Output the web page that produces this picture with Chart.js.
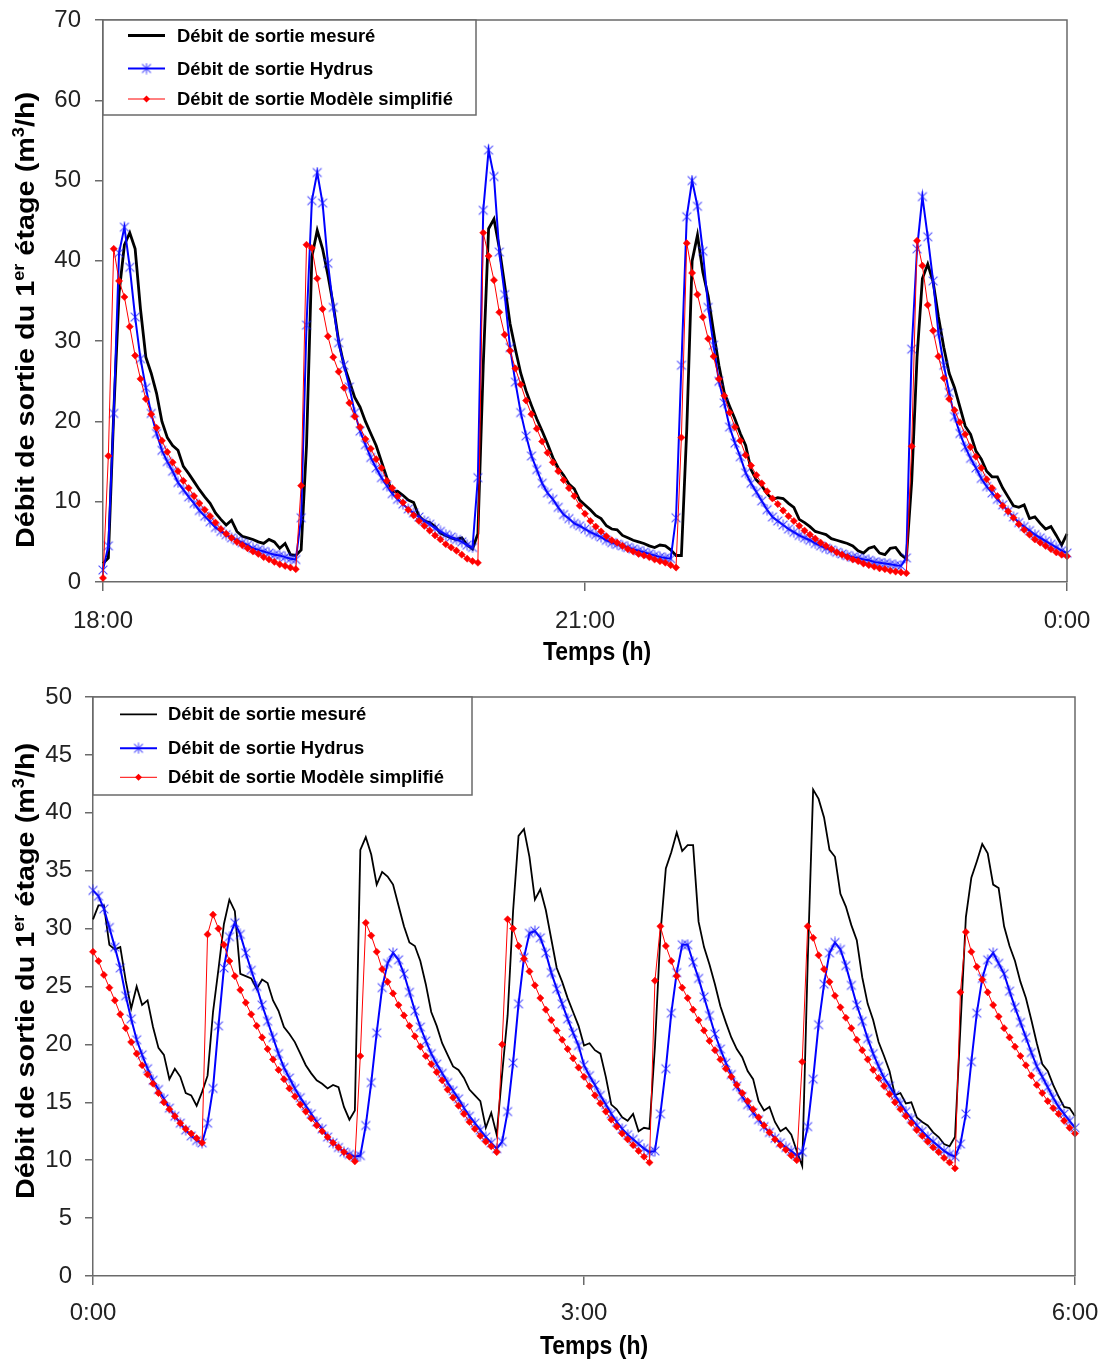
<!DOCTYPE html>
<html>
<head>
<meta charset="utf-8">
<title>Débit de sortie du 1er étage</title>
<script src="https://cdn.jsdelivr.net/npm/chart.js@4"></script>
<style>
  html, body { margin: 0; padding: 0; background: #fff; }
  #page { position: relative; width: 1101px; height: 1369px; overflow: hidden; }
  canvas { position: absolute; left: 0; }
  #topChart { top: 0; }
  #bottomChart { top: 685px; }
</style>
</head>
<body>
<div id="page">
  <canvas id="topChart" width="1101" height="685"></canvas>
  <canvas id="bottomChart" width="1101" height="684"></canvas>
</div>
<script>
// one value every 2 minutes, 181 values per series (6 hours)
const stepMinutes = 2;
const tickMinutes = [0, 180, 360];

const seriesNames = ["Débit de sortie mesuré", "Débit de sortie Hydrus", "Débit de sortie Modèle simplifié"];
const xTitle = "Temps (h)";
// [text, superscript?]
const yTitleParts = [["Débit de sortie du 1", false], ["er", true], [" étage (m", false], ["3", true], ["/h)", false]];

// ---- 18:00 -> 0:00 ----
const topTickLabels = ["18:00", "21:00", "0:00"];
const topMesure = [
  2.3, 3.0, 21, 36, 42, 43.5, 41.5, 34, 28, 26,
  23.5, 20, 18, 17, 16.4, 14.4, 13.5, 12.5, 11.5, 10.6,
  9.8, 8.6, 7.8, 7.1, 7.7, 6.3, 5.7, 5.5, 5.3, 5.0,
  4.8, 5.3, 5.0, 4.2, 4.8, 3.4, 3.3, 4.0, 17, 40.5,
  43.8, 41.5, 38.2, 34.5, 30, 27, 25, 23, 21.8, 20,
  18.5, 17, 15, 13, 11.2, 11.3, 10.8, 10.2, 9.9, 8.2,
  7.6, 7.4, 6.9, 6.1, 5.8, 5.5, 5.3, 5.5, 4.6, 4.1,
  6, 27, 44, 45.2, 41.6, 37, 32.2, 29, 26, 23.8,
  22, 20.3, 18.8, 17.2, 15.5, 14.2, 13.3, 12.2, 11.6, 10.2,
  9.6, 9.0, 8.3, 7.9, 7.0, 6.6, 6.5, 5.8, 5.5, 5.2,
  5.0, 4.8, 4.5, 4.3, 4.6, 4.5, 4.0, 3.3, 3.3, 19,
  40, 43.2, 38.6, 35.6, 31.2, 27, 23.6, 21.9, 20.3, 18.5,
  17, 14, 12.7, 12, 11, 10.3, 10.5, 10.4, 9.8, 9.3,
  7.8, 7.4, 6.9, 6.3, 6.1, 5.9, 5.4, 5.2, 5.0, 4.8,
  4.5, 3.9, 3.6, 4.2, 4.4, 3.6, 3.4, 4.2, 4.3, 3.4,
  2.9, 12.5, 28, 37.8, 39.6, 37.4, 33, 29.2, 26, 24.2,
  21.8, 19.4, 18.4, 16.3, 15.3, 13.8, 13.1, 13.1, 11.7, 10.6,
  9.5, 9.3, 9.6, 7.9, 8.1, 7.3, 6.6, 6.9, 5.8, 4.6,
  6.0
];
const topHydrus = [
  1.5, 4.5, 21, 41, 44.2, 39.2, 33, 27.8, 24.2, 21,
  18.5, 16.4, 15, 13.8, 12.4, 11.5, 10.6, 9.8, 8.9, 8.2,
  7.5, 6.8, 6.3, 5.9, 5.5, 5.2, 4.9, 4.6, 4.2, 4.0,
  3.8, 3.6, 3.4, 3.3, 3.1, 2.9, 2.8, 8, 32, 47.5,
  51, 47.2, 39.7, 34.2, 29.8, 27, 24.3, 21.1, 18.8, 17.1,
  15.5, 14.2, 13.0, 12.0, 11.0, 10.3, 9.7, 9.1, 8.6, 8.1,
  7.6, 7.2, 6.7, 6.3, 5.9, 5.6, 5.3, 5.0, 4.6, 4.3,
  13, 46.3, 53.8, 50.5, 41.1, 35.8, 29.2, 24.9, 21.1, 18.2,
  15.7, 14.0, 12.3, 11.1, 10.3, 9.3, 8.4, 7.9, 7.3, 7.0,
  6.6, 6.2, 5.9, 5.6, 5.2, 4.9, 4.7, 4.5, 4.3, 4.1,
  3.9, 3.7, 3.5, 3.3, 3.1, 3.0, 2.9, 8, 27, 45.5,
  50, 46.8, 41.2, 34.2, 29.5, 25.0, 22.3, 19.3, 17.3, 15.6,
  13.6, 12.3, 11.2, 10.1, 9.0, 8.1, 7.6, 7.1, 6.6, 6.2,
  5.8, 5.5, 5.2, 4.8, 4.5, 4.2, 4.0, 3.7, 3.5, 3.3,
  3.1, 3.0, 2.8, 2.7, 2.5, 2.4, 2.3, 2.2, 2.1, 2.0,
  3, 29, 41.5, 48, 43, 37.5, 31, 27, 23.6, 20.6,
  18.5, 16.8, 15.4, 14.2, 12.9, 11.9, 11.1, 10.3, 9.6, 8.8,
  8.1, 7.4, 6.9, 6.4, 5.9, 5.5, 5.1, 4.7, 4.3, 3.9,
  3.6
];
const topSimplifie = [
  0.5, 15.7, 41.5, 37.5, 35.5, 31.8, 28.2, 25.3, 22.8, 20.9,
  19.2, 17.6, 16.2, 14.9, 13.8, 12.6, 11.7, 10.7, 9.8, 9.0,
  8.2, 7.4, 6.6, 6.0, 5.5, 5.0, 4.6, 4.2, 3.8, 3.5,
  3.1, 2.8, 2.5, 2.2, 2.0, 1.8, 1.6, 12, 42, 41.6,
  37.8, 34, 30.6, 28, 26.2, 24.2, 22.3, 20.6, 19.3, 17.8,
  16.6, 15.3, 14.2, 12.6, 11.7, 10.7, 9.9, 9.0, 8.3, 7.6,
  7.0, 6.4, 5.8, 5.3, 4.7, 4.3, 3.9, 3.4, 2.9, 2.6,
  2.4, 43.5, 40.6, 37.6, 33.6, 30.8, 28.8, 26.6, 24.6, 22.6,
  20.9, 19.1, 17.5, 16.1, 14.9, 13.8, 12.7, 11.7, 10.7, 9.5,
  8.5, 7.6, 6.9, 6.3, 5.7, 5.2, 4.9, 4.5, 4.1, 3.8,
  3.5, 3.3, 3.1, 2.8, 2.6, 2.4, 2.1, 1.8, 18, 42.2,
  38.5, 35.8, 33.0, 30.3, 28.1, 25.3, 23.2, 21.1, 19.3, 17.6,
  15.8, 14.5, 13.3, 12.3, 11.3, 10.4, 9.7, 8.9, 8.2, 7.6,
  7.0, 6.4, 5.9, 5.4, 4.9, 4.5, 4.1, 3.7, 3.4, 3.1,
  2.8, 2.6, 2.3, 2.1, 1.9, 1.7, 1.6, 1.4, 1.3, 1.2,
  1.1, 16.9, 42.5, 39.4, 34.5, 31.3, 28.1, 25.4, 22.8, 21.4,
  19.9, 18.4, 16.8, 15.6, 14.2, 12.8, 11.7, 10.7, 9.5, 8.8,
  8.0, 7.2, 6.5, 5.9, 5.3, 4.9, 4.5, 4.1, 3.7, 3.4,
  3.2
];

// ---- 0:00 -> 6:00 ----
const bottomTickLabels = ["0:00", "3:00", "6:00"];
const bottomMesure = [
  30.8, 32.0, 32.0, 28.6, 28.2, 28.4, 25.5, 23.1, 25.0, 23.4,
  23.8, 21.5, 19.7, 19.1, 17.0, 17.9, 17.2, 15.8, 15.6, 14.7,
  15.9, 17.3, 22.8, 26.5, 30.4, 32.5, 31.5, 26.1, 25.9, 25.7,
  24.8, 25.6, 25.3, 23.8, 22.9, 21.5, 20.9, 20.2, 19.2, 18.2,
  17.5, 16.9, 16.6, 16.2, 16.5, 16.3, 14.6, 13.5, 14.3, 36.8,
  37.9, 36.4, 33.8, 34.9, 34.5, 33.8, 32.0, 30.2, 28.8, 28.5,
  27.2, 25.2, 22.8, 21.6, 20.1, 19.1, 18.1, 17.8, 17.1, 16.1,
  15.6, 15.1, 12.8, 14.1, 12.2, 17.5, 22.5, 31.5, 38.0, 38.6,
  36.2, 32.5, 33.4, 31.6, 29.1, 26.6, 25.4, 24.0, 22.8, 21.6,
  19.9, 20.1, 19.5, 19.2, 17.2, 14.8, 14.4, 13.7, 13.4, 14.0,
  12.5, 12.8, 12.7, 19.8, 29.5, 35.2, 36.6, 38.3, 36.7, 37.2,
  37.2, 30.6, 28.4, 26.9, 25.2, 23.3, 21.9, 20.6, 19.6, 18.9,
  17.7, 17.0, 15.1, 14.3, 14.6, 13.3, 12.5, 12.8, 12.2, 10.8,
  9.5, 27, 42.0, 41.2, 39.6, 36.8, 36.2, 33.0, 31.9, 30.3,
  29.0, 25.8, 23.5, 22.1, 20.2, 19.0, 17.7, 15.6, 15.8, 14.9,
  15.0, 13.7, 13.3, 13.0, 12.4, 12.0, 11.4, 11.2, 12.0, 21.5,
  31.0, 34.4, 35.8, 37.3, 36.5, 33.8, 33.5, 30.2, 28.5, 27.2,
  25.4, 24.0, 22.1, 20.1, 18.3, 17.7, 16.5, 15.5, 14.6, 14.5,
  13.8
];
const bottomHydrus = [
  33.3, 32.8, 31.7, 30.1, 28.4, 26.6, 24.2, 22.2, 20.4, 19.1,
  17.9, 16.9, 16.1, 15.3, 14.5, 13.8, 13.2, 12.6, 12.1, 11.7,
  11.5, 13.2, 16.2, 21.6, 26.6, 29.3, 30.5, 29.5, 27.9, 26.4,
  25.0, 23.4, 22.0, 20.6, 19.2, 18.0, 17.1, 16.2, 15.4, 14.7,
  14.0, 13.3, 12.7, 12.0, 11.5, 11.1, 10.7, 10.5, 10.3, 10.4,
  13.0, 16.7, 21.0, 24.9, 27.0, 27.9, 27.3, 26.1, 24.5, 22.9,
  21.5, 20.3, 19.2, 18.3, 17.5, 16.7, 16.0, 15.3, 14.5, 13.8,
  13.2, 12.6, 12.0, 11.5, 11.0, 11.6, 14.2, 18.4, 23.5, 27.5,
  29.6, 29.8, 29.2, 27.9, 26.2, 24.8, 23.5, 22.2, 21.0, 19.9,
  18.2, 17.3, 16.5, 15.6, 14.8, 14.0, 13.3, 12.7, 12.2, 11.8,
  11.4, 11.0, 10.7, 10.8, 14.0, 17.9, 22.7, 26.2, 28.6, 28.6,
  27.1, 25.7, 24.1, 22.5, 20.9, 19.6, 18.4, 17.4, 16.4, 15.5,
  14.8, 14.1, 13.5, 12.9, 12.4, 11.9, 11.5, 11.1, 10.8, 10.4,
  10.7, 12.9, 17.0, 21.7, 25.2, 27.9, 28.8, 28.2, 26.8, 25.1,
  23.4, 22.0, 20.5, 19.2, 18.1, 17.1, 16.4, 15.6, 14.9, 14.2,
  13.6, 13.0, 12.5, 12.0, 11.6, 11.2, 10.8, 10.5, 10.3, 11.4,
  14.0, 18.5, 22.7, 25.7, 27.3, 27.9, 27.0, 26.1, 24.6, 23.2,
  21.9, 20.6, 19.3, 18.1, 17.2, 16.3, 15.4, 14.6, 14.0, 13.4,
  12.8
];
const bottomSimplifie = [
  28.0, 27.2, 26.0, 24.9, 23.8, 22.6, 21.4, 20.2, 19.2, 18.2,
  17.4, 16.6, 15.8, 15.0, 14.4, 13.8, 13.2, 12.7, 12.3, 11.9,
  11.5, 29.5, 31.2, 30.0, 28.6, 27.2, 25.9, 24.7, 23.6, 22.6,
  21.6, 20.6, 19.6, 18.7, 17.8, 17.0, 16.2, 15.5, 14.8, 14.2,
  13.6, 13.0, 12.5, 12.0, 11.5, 11.1, 10.7, 10.3, 9.9, 19,
  30.5, 29.4, 28.0, 26.5, 25.4, 24.4, 23.4, 22.5, 21.6, 20.7,
  19.8, 19.0, 18.3, 17.6, 16.9, 16.1, 15.4, 14.7, 14.0, 13.3,
  12.7, 12.1, 11.6, 11.2, 10.7, 20, 30.8, 30.0, 28.5, 27.4,
  26.3, 25.1, 24.0, 23.0, 22.1, 21.2, 20.4, 19.6, 18.8, 18.0,
  17.2, 16.4, 15.6, 14.9, 14.2, 13.5, 12.9, 12.3, 11.8, 11.3,
  10.8, 10.3, 9.8, 25.5, 30.2, 28.5, 27.2, 25.9, 24.9, 24.0,
  23.0, 22.1, 21.2, 20.3, 19.5, 18.7, 17.9, 17.2, 16.5, 15.8,
  15.1, 14.4, 13.7, 13.0, 12.4, 11.8, 11.3, 10.9, 10.4, 10.0,
  18.5, 30.2, 29.2, 27.7, 26.5, 25.4, 24.2, 23.2, 22.3, 21.4,
  20.4, 19.5, 18.7, 17.8, 17.1, 16.4, 15.7, 15.0, 14.4, 13.8,
  13.2, 12.6, 12.1, 11.6, 11.1, 10.7, 10.2, 9.8, 9.3, 24.5,
  29.7, 28.0, 26.7, 25.6, 24.5, 23.4, 22.4, 21.4, 20.6, 19.8,
  19.0, 18.2, 17.3, 16.5, 15.8, 15.1, 14.5, 14.0, 13.4, 12.8,
  12.3
];

Chart.defaults.font.family = "'Liberation Sans', Arial, Helvetica, sans-serif";
const axisColor = "#6a6a6a";
const textColor = "#222";

function toPoints(values) {
  return values.map((v, i) => ({ x: i * stepMinutes, y: v }));
}

// Excel-like asterisk marker (X + vertical bar)
function makeAsterisk(size, color) {
  const c = document.createElement("canvas");
  c.width = size;
  c.height = size;
  const g = c.getContext("2d");
  const m = size / 2, r = size / 2 - 0.5, d = r * 0.8;
  g.strokeStyle = color;
  g.lineWidth = 1.1;
  g.beginPath();
  g.moveTo(m, m - r); g.lineTo(m, m + r);
  g.moveTo(m - d, m - d); g.lineTo(m + d, m + d);
  g.moveTo(m + d, m - d); g.lineTo(m - d, m + d);
  g.stroke();
  return c;
}
const asterisk = makeAsterisk(12, "rgba(20,20,255,0.75)");

// the axes must not push the plot box around: padding is set by layout only
function noScalePadding(scale) {
  scale.paddingTop = 0;
  scale.paddingBottom = 0;
  scale.paddingLeft = 0;
  scale.paddingRight = 0;
}

const decor = {
  id: "decor",
  afterDatasetsDraw(chart, args, opts) {
    const ctx = chart.ctx;
    const a = chart.chartArea;
    ctx.save();
    // top and right edges of the plot box
    ctx.strokeStyle = axisColor;
    ctx.lineWidth = 1.5;
    ctx.beginPath();
    ctx.moveTo(a.left, a.top);
    ctx.lineTo(a.right, a.top);
    ctx.lineTo(a.right, a.bottom);
    ctx.stroke();

    // legend box
    const lg = opts.legend;
    ctx.fillStyle = "#fff";
    ctx.fillRect(lg.x, lg.y, lg.w, lg.h);
    ctx.strokeRect(lg.x, lg.y, lg.w, lg.h);
    const mid = (lg.lineX0 + lg.lineX1) / 2;
    ctx.font = "bold 18.4px 'Liberation Sans', Arial, sans-serif";
    ctx.textBaseline = "middle";
    ctx.textAlign = "left";
    lg.rows.forEach((y, i) => {
      const ds = chart.data.datasets[i];
      ctx.strokeStyle = ds.borderColor;
      ctx.lineWidth = ds.borderWidth;
      ctx.beginPath();
      ctx.moveTo(lg.lineX0, y);
      ctx.lineTo(lg.lineX1, y);
      ctx.stroke();
      if (i === 1) {
        ctx.drawImage(asterisk, mid - asterisk.width / 2, y - asterisk.height / 2);
      } else if (i === 2) {
        ctx.fillStyle = "#ff0000";
        ctx.beginPath();
        ctx.moveTo(mid, y - 3.5); ctx.lineTo(mid + 3.5, y);
        ctx.lineTo(mid, y + 3.5); ctx.lineTo(mid - 3.5, y);
        ctx.closePath();
        ctx.fill();
      }
      ctx.fillStyle = "#000";
      ctx.fillText(seriesNames[i], lg.textX, y + 1);
    });
    ctx.restore();
  },
  afterDraw(chart, args, opts) {
    const ctx = chart.ctx;
    ctx.save();
    ctx.fillStyle = "#000";
    // x title, slightly stretched vertically like the original
    ctx.translate(opts.xTitle.cx, opts.xTitle.baseline);
    ctx.scale(1, 1.13);
    ctx.font = "bold 23px 'Liberation Sans', Arial, sans-serif";
    ctx.textAlign = "center";
    ctx.textBaseline = "alphabetic";
    ctx.fillText(xTitle, 0, 0);
    ctx.restore();

    // y title with superscripts, reading upwards
    ctx.save();
    ctx.fillStyle = "#000";
    ctx.translate(opts.yTitle.x, opts.yTitle.cy);
    ctx.rotate(-Math.PI / 2);
    ctx.scale(1.13, 1);
    ctx.textAlign = "left";
    ctx.textBaseline = "alphabetic";
    const big = "bold 25.5px 'Liberation Sans', Arial, sans-serif";
    const small = "bold 16px 'Liberation Sans', Arial, sans-serif";
    let total = 0;
    yTitleParts.forEach(([t, sup]) => {
      ctx.font = sup ? small : big;
      total += ctx.measureText(t).width;
    });
    let x = -total / 2;
    yTitleParts.forEach(([t, sup]) => {
      ctx.font = sup ? small : big;
      ctx.fillText(t, x, sup ? -10 : 0);
      x += ctx.measureText(t).width;
    });
    ctx.restore();
  }
};

function buildChart(canvasId, s) {
  const gridOpts = (len) => ({
    drawOnChartArea: false, drawTicks: true, tickLength: len,
    color: axisColor, lineWidth: 1.5
  });
  return new Chart(document.getElementById(canvasId), {
    type: "line",
    data: {
      datasets: [
        {
          label: seriesNames[0], data: toPoints(s.mesure),
          borderColor: "#000000", borderWidth: s.mesureWidth,
          pointRadius: 0, tension: 0, order: 3, clip: false
        },
        {
          label: seriesNames[1], data: toPoints(s.hydrus),
          borderColor: "#0000ff", borderWidth: 2,
          pointStyle: asterisk, pointRadius: 5, tension: 0, order: 2, clip: false
        },
        {
          label: seriesNames[2], data: toPoints(s.simplifie),
          borderColor: "#ff0000", borderWidth: 1,
          pointStyle: "rectRot", pointRadius: 3.6,
          pointBackgroundColor: "#ff0000", pointBorderColor: "#ff0000", pointBorderWidth: 0.5,
          tension: 0, order: 1, clip: false
        }
      ]
    },
    options: {
      responsive: false,
      animation: false,
      events: [],
      layout: { padding: s.padding },
      plugins: {
        legend: { display: false },
        tooltip: { enabled: false },
        decor: { legend: s.legend, xTitle: s.xTitle, yTitle: s.yTitle }
      },
      scales: {
        x: {
          type: "linear", min: 0, max: 360,
          afterBuildTicks: (scale) => { scale.ticks = tickMinutes.map(v => ({ value: v })); },
          afterFit: (scale) => { scale.height = s.xAxisHeight; noScalePadding(scale); },
          ticks: {
            callback: (v) => s.tickLabels[tickMinutes.indexOf(v)],
            font: { size: 24 }, color: textColor, padding: s.xPad,
            maxRotation: 0, autoSkip: false
          },
          grid: gridOpts(9),
          border: { color: axisColor, width: 1.5 }
        },
        y: {
          min: 0, max: s.yMax,
          afterFit: (scale) => { scale.width = s.yAxisWidth; noScalePadding(scale); },
          ticks: { stepSize: s.yStep, font: { size: 24 }, color: textColor, padding: s.yPad },
          grid: gridOpts(8),
          border: { color: axisColor, width: 1.5 }
        }
      }
    },
    plugins: [decor]
  });
}

buildChart("topChart", {
  mesure: topMesure, hydrus: topHydrus, simplifie: topSimplifie,
  tickLabels: topTickLabels, yMax: 70, yStep: 10, mesureWidth: 2.8,
  padding: { left: 0, top: 20, right: 34, bottom: 0 },
  yAxisWidth: 103, xAxisHeight: 103, xPad: 16, yPad: 14,
  legend: { x: 103, y: 20, w: 373, h: 95, rows: [35.5, 68.5, 99], lineX0: 128, lineX1: 165, textX: 177 },
  xTitle: { cx: 597, baseline: 660 },
  yTitle: { x: 33.5, cy: 320 }
});

buildChart("bottomChart", {
  mesure: bottomMesure, hydrus: bottomHydrus, simplifie: bottomSimplifie,
  tickLabels: bottomTickLabels, yMax: 50, yStep: 5, mesureWidth: 1.8,
  padding: { left: 0, top: 12, right: 26, bottom: 0 },
  yAxisWidth: 93, xAxisHeight: 93, xPad: 14, yPad: 13,
  legend: { x: 93, y: 12, w: 379, h: 98, rows: [29.3, 63.3, 92.3], lineX0: 120, lineX1: 157, textX: 168 },
  xTitle: { cx: 594, baseline: 669 },
  yTitle: { x: 33.5, cy: 286 }
});
</script>
</body>
</html>
